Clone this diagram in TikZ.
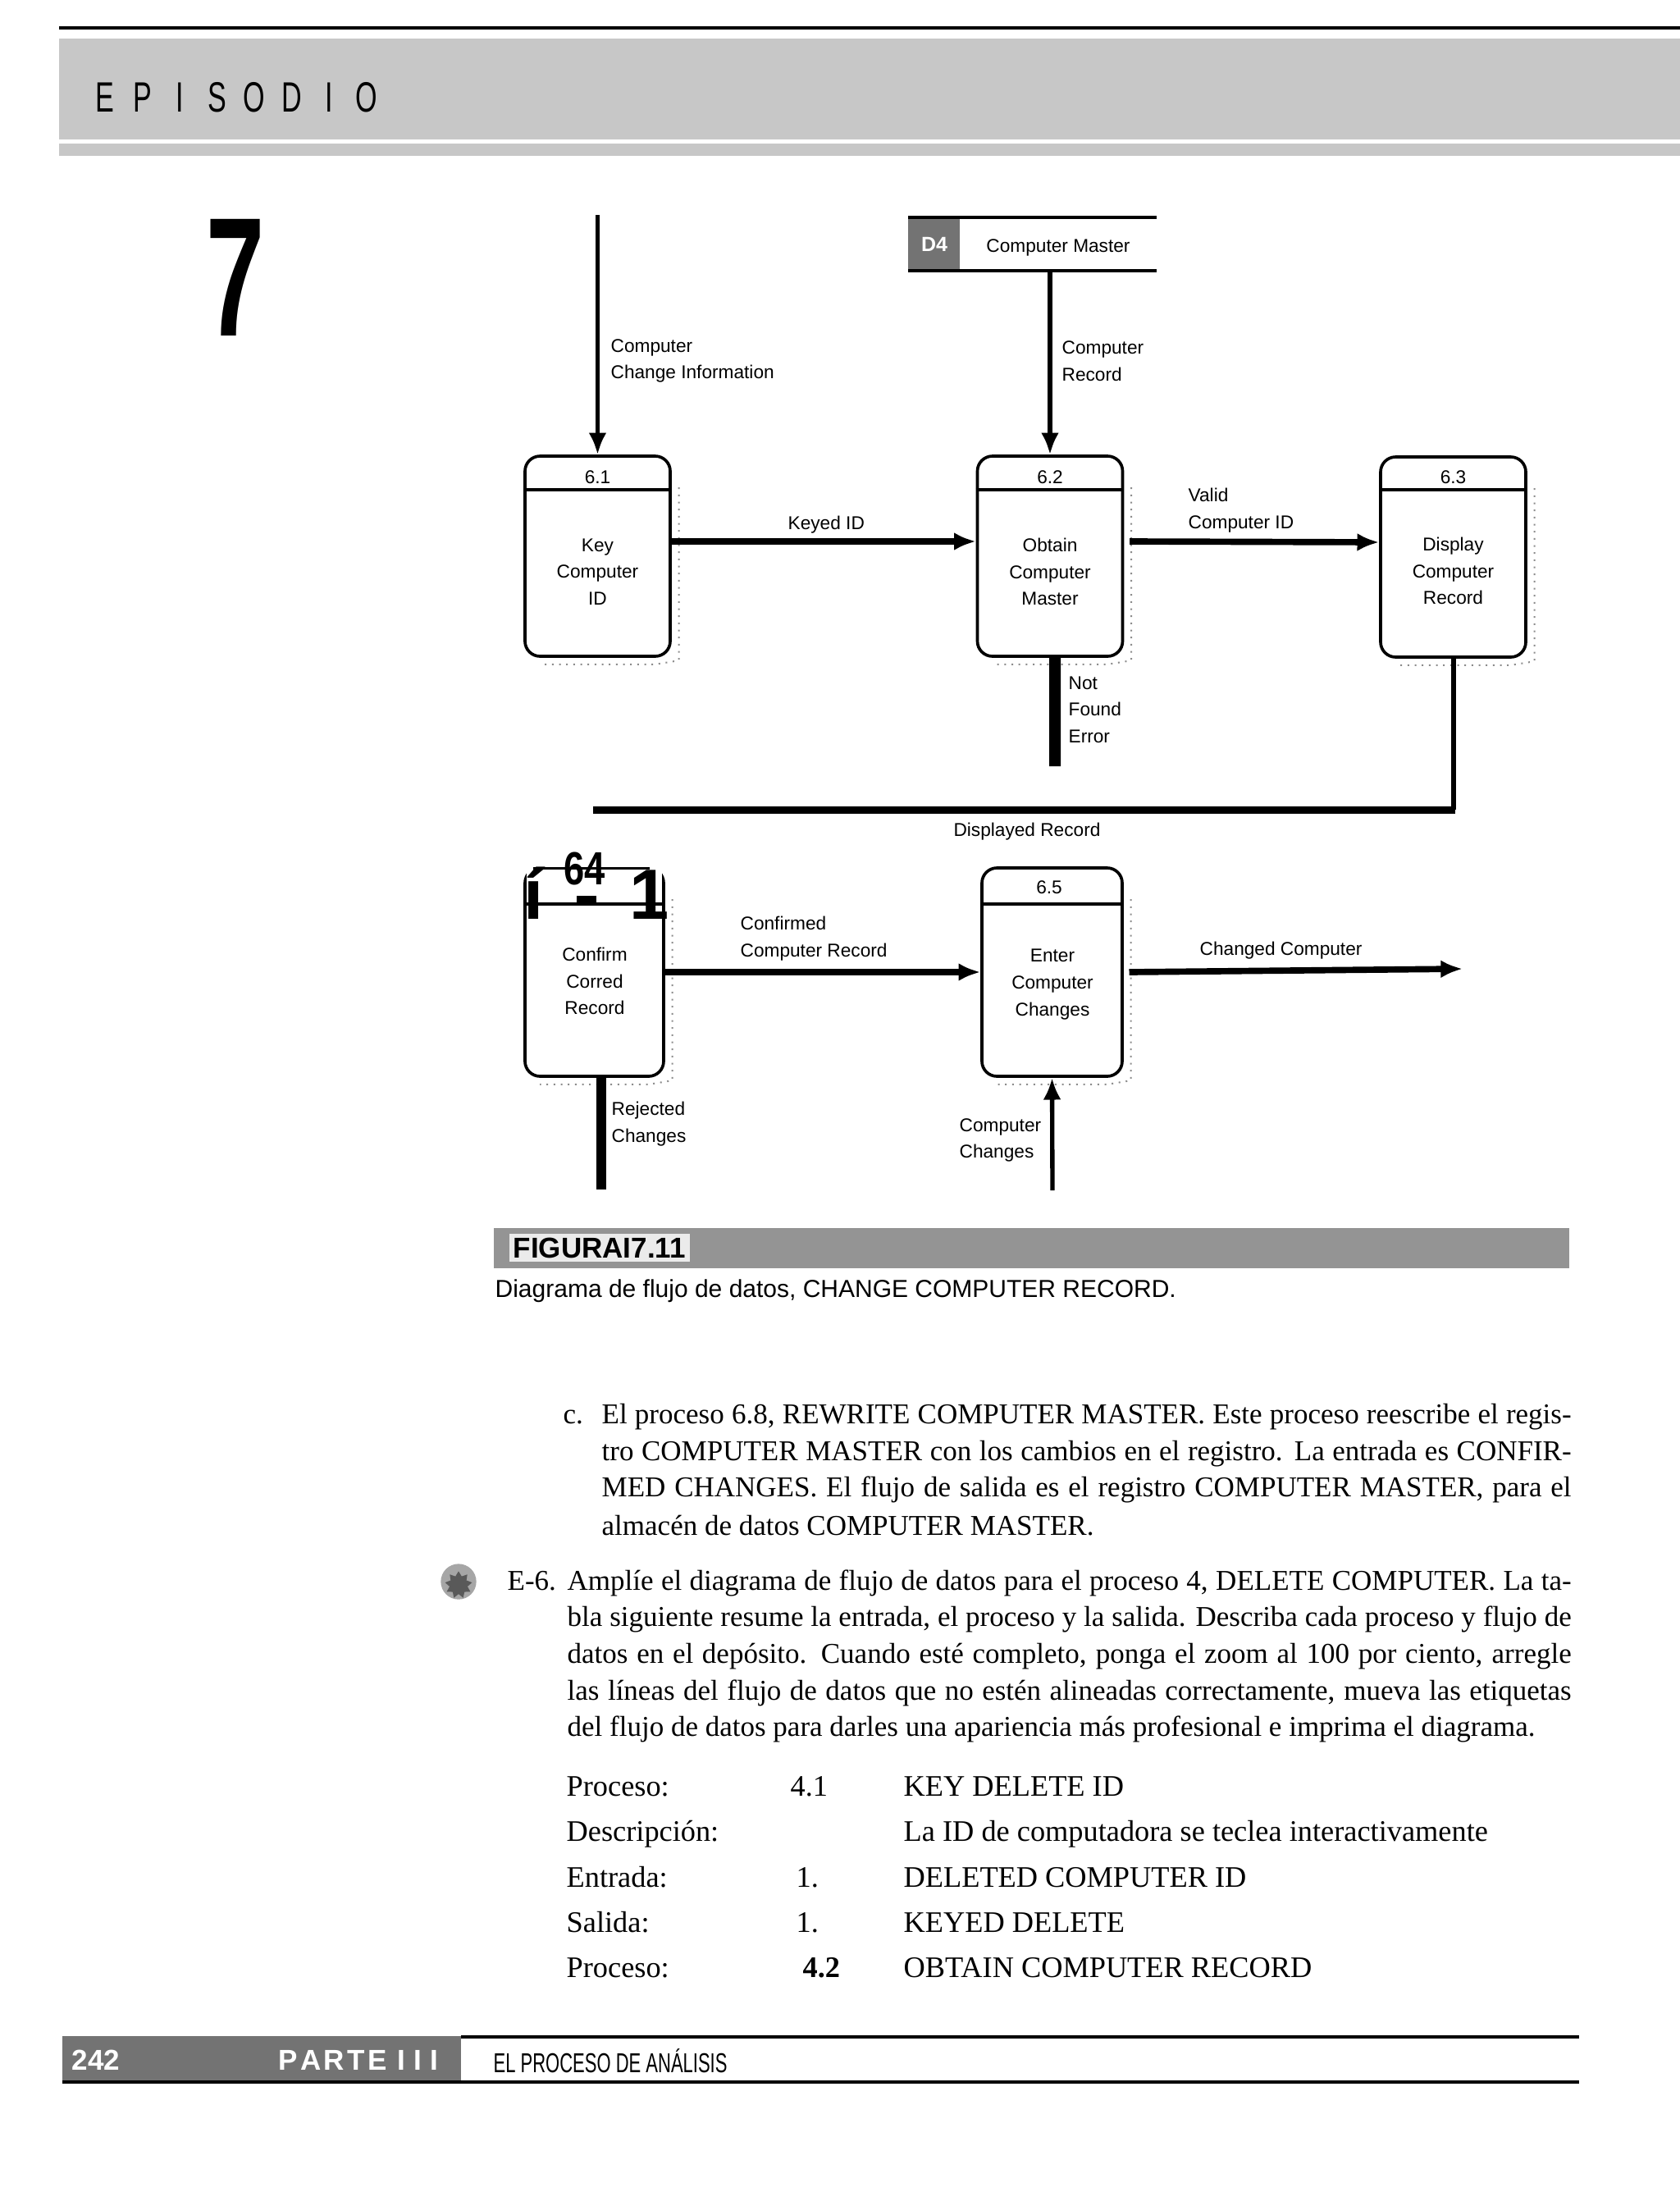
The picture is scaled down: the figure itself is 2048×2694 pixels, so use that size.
\documentclass[tikz,border=0pt]{standalone}
\usepackage{fontspec}
\usepackage{graphicx}
\setmainfont{Liberation Serif}
\newfontfamily\dsans{Liberation Sans}
\usetikzlibrary{arrows.meta,shapes.geometric}
\begin{document}
\begin{tikzpicture}[x=0.3pt,y=-0.3pt,
  proc/.style={draw,line width=1.1pt,rounded corners=5.5pt,inner sep=0pt,minimum width=53.1pt,minimum height=73.2pt},
  lproc/.style={proc,minimum height=76.2pt},
  hdr/.style={line width=1.1pt},
  ptxt/.style={font=\dsans\fontsize{6.8}{9.8}\selectfont,align=center,inner sep=0pt},
  lbl/.style={font=\dsans\fontsize{6.8}{9.8}\selectfont,align=left,inner sep=0pt,anchor=west},
  flow/.style={line width=2.3pt,-{Latex[length=8pt,width=6.6pt]}},
  vflow/.style={line width=1.6pt,-{Latex[length=8pt,width=6.6pt]}},
  body/.style={font=\fontsize{10.5}{13.4}\selectfont,inner sep=0pt,anchor=base west},
  tbl/.style={font=\fontsize{10.9}{13.4}\selectfont,inner sep=0pt,anchor=base west},
  shadowl/.style={black!45,dotted,line width=0.6pt},
]
\useasboundingbox (0,0) rectangle (2048,2694);
\fill[white] (0,0) rectangle (2048,2694);

% ---------- header ----------
\draw[line width=1pt] (72,34) -- (2048,34);
\fill[black!22] (72,47) rectangle (2048,170);
\fill[black!22] (72,175) rectangle (2048,190);
\foreach \ch [count=\i from 0] in {E,P,I,S,O,D,I,O}
  \node[font=\dsans\fontsize{15.5}{16}\selectfont,inner sep=0pt] (ep\i) at (128+45.5*\i,119) {\scalebox{0.66}[1]{\ch}};
\node[font=\dsans\bfseries\fontsize{62}{62}\selectfont,inner sep=0pt,anchor=base] (seven) at (287,409) {\scalebox{0.62}[1]{7}};

% ---------- data store ----------
\node[inner sep=0pt,minimum width=90.9pt,minimum height=19.5pt] (store) at (1258.5,297.5) {};
\fill[black!55] (1107,265) rectangle (1170,330);
\node[font=\dsans\bfseries\fontsize{7.5}{8}\selectfont,text=white,inner sep=0pt] (d4id) at (1139,298) {D4};
\draw[line width=1pt] (1107,265) -- (1410,265);
\draw[line width=1pt] (1107,330) -- (1410,330);
\node[ptxt] (d4name) at (1290,302) {Computer Master};

% ---------- processes ----------
\node[proc] (p61) at (728.5,678) {};
\node[proc] (p62) at (1280,678) {};
\node[proc] (p63) at (1771.5,679) {};
\node[lproc,minimum width=50.7pt] (p64) at (724.5,1185) {};
\node[lproc,minimum width=51.3pt] (p65) at (1282.5,1185) {};
\foreach \b in {p61,p62,p63}
  \draw[hdr] (\b.west |- 0,597) -- (\b.east |- 0,597);
\foreach \b in {p64,p65}
  \draw[hdr] (\b.west |- 0,1102) -- (\b.east |- 0,1102);
\foreach \b in {p61,p62,p63,p64,p65}
  \draw[shadowl] ([xshift=2.6pt,yshift=-12pt]\b.north east) -- ([xshift=2.6pt,yshift=-1pt]\b.south east)
     -- ([xshift=-6pt,yshift=-2.4pt]\b.south east) -- ([xshift=6pt,yshift=-2.4pt]\b.south west);

\node[ptxt] (n61) at (728.5,582) {6.1};
\node[ptxt] (n62) at (1280,582) {6.2};
\node[ptxt] (n63) at (1771.5,582) {6.3};
\node[ptxt] (n65) at (1279,1082) {6.5};
\node[ptxt] (t61) at (728.5,697) {Key\\Computer\\ID};
\node[ptxt] (t62) at (1280,697) {Obtain\\Computer\\Master};
\node[ptxt] (t63) at (1771.5,696) {Display\\Computer\\Record};
\node[ptxt] (t64) at (725,1196) {Confirm\\Corred\\Record};
\node[ptxt] (t65) at (1283,1200) {Enter\\Computer\\Changes};

% odd scanned header of 6.4
\fill[white] (642,1050) rectangle (807,1100);
\draw[line width=0.9pt] (650,1058) -- (792,1058);
\node[font=\dsans\bfseries\fontsize{17}{17}\selectfont,inner sep=0pt] (n64) at (713,1059) {\scalebox{0.8}[1]{64}};
\node[font=\dsans\bfseries\fontsize{26}{26}\selectfont,inner sep=0pt,anchor=base] (m64a) at (651,1120) {í};
\node[font=\dsans\bfseries\fontsize{26}{26}\selectfont,inner sep=0pt,anchor=base] (m64b) at (792,1120) {1};
\fill (703,1092) rectangle (727,1104);

% ---------- flows ----------
\coordinate (in1) at (728.5,262);
\draw[vflow] (in1) -- (p61.north);
\draw[vflow] (store.south -| p62.north) -- (p62.north);
\draw[flow] ([yshift=5.4pt]p61.east) -- ([yshift=5.4pt]p62.west);
\draw[flow] ([xshift=2pt,yshift=5.4pt]p62.east) -- ([yshift=5.4pt]p63.west);
\coordinate (nfe) at (1286,934);
\draw[line width=4.2pt] ([xshift=1.8pt]p62.south) -- (nfe);
\coordinate (dre) at (723,987);
\draw[line width=1.8pt] (p63.south) -- (p63.south |- dre);
\draw[line width=2.7pt] ([xshift=0.8pt]p63.south |- dre) -- (dre);
\draw[flow] (p64.east) -- (p65.west);
\coordinate (cce) at (1783,1181);
\draw[flow] ([xshift=2pt]p65.east) -- (cce);
\coordinate (rce) at (733,1450);
\draw[line width=3.8pt] (p64.south -| rce) -- (rce);
\coordinate (ccs) at (1283,1451);
\draw[vflow] (ccs) -- (p65.south);

% ---------- flow labels ----------
\node[lbl] (lcci) at (744,440) {Computer\\Change Information};
\node[lbl] (lcr) at (1294,440) {Computer\\Record};
\node[lbl] (lkid) at (960,640) {Keyed ID};
\node[lbl] (lvci) at (1448,622) {Valid\\Computer ID};
\node[lbl] (lnfe) at (1302,865) {Not\\Found\\Error};
\node[ptxt] (ldr) at (1252,1014) {Displayed Record};
\node[lbl] (lccr) at (902,1144) {Confirmed\\Computer Record};
\node[lbl] (lchc) at (1462,1159) {Changed Computer};
\node[lbl] (lrc) at (745,1370) {Rejected\\Changes};
\node[lbl] (lcc) at (1169,1390) {Computer\\Changes};

% ---------- caption ----------
\fill[black!42] (602,1497) rectangle (1913,1546);
\node[fill=black!8,font=\dsans\bfseries\fontsize{10.5}{11}\selectfont,inner sep=1.5pt,anchor=west] (figlab) at (620,1521) {FIGURAI7.11};
\node[font=\dsans\fontsize{9}{10}\selectfont,anchor=base west,inner sep=0pt] (cap) at (603,1581) {Diagrama de flujo de datos, CHANGE COMPUTER RECORD.};

% ---------- body text ----------
\node[body] (clab) at (686,1735) {c.};
\node[body] (c1) at (733,1735) {\makebox[354.6pt][s]{El proceso 6.8, REWRITE COMPUTER MASTER. Este proceso reescribe el regis-}};
\node[body] (c2) at (733,1780) {\makebox[354.6pt][s]{tro COMPUTER MASTER con los cambios en el registro. La entrada es CONFIR-}};
\node[body] (c3) at (733,1824) {\makebox[354.6pt][s]{MED CHANGES. El flujo de salida es el registro COMPUTER MASTER, para el}};
\node[body] (c4) at (733,1871) {almacén de datos COMPUTER MASTER.};

\node[circle,fill=black!35,inner sep=0pt,minimum size=13pt] (iconbg) at (559,1928) {};
\node[star,star points=9,star point ratio=1.5,fill=black!65,inner sep=0pt,minimum size=10pt] (icon) at (559,1932) {};
\node[body] (elab) at (618,1938) {E-6.};
\node[body] (e1) at (691,1938) {\makebox[367.2pt][s]{Amplíe el diagrama de flujo de datos para el proceso 4, DELETE COMPUTER. La ta-}};
\node[body] (e2) at (691,1982) {\makebox[367.2pt][s]{bla siguiente resume la entrada, el proceso y la salida. Describa cada proceso y flujo de}};
\node[body] (e3) at (691,2027) {\makebox[367.2pt][s]{datos en el depósito. Cuando esté completo, ponga el zoom al 100 por ciento, arregle}};
\node[body] (e4) at (691,2072) {\makebox[367.2pt][s]{las líneas del flujo de datos que no estén alineadas correctamente, mueva las etiquetas}};
\node[body] (e5) at (691,2116) {del flujo de datos para darles una apariencia más profesional e imprima el diagrama.};

% ---------- table ----------
\node[tbl] (r1a) at (690,2189) {Proceso:};
\node[tbl] (r1b) at (963,2189) {4.1};
\node[tbl] (r1c) at (1101,2189) {KEY DELETE ID};
\node[tbl] (r2a) at (690,2244) {Descripción:};
\node[tbl] (r2c) at (1101,2244) {La ID de computadora se teclea interactivamente};
\node[tbl] (r3a) at (690,2300) {Entrada:};
\node[tbl] (r3b) at (970,2300) {1.};
\node[tbl] (r3c) at (1101,2300) {DELETED COMPUTER ID};
\node[tbl] (r4a) at (690,2355) {Salida:};
\node[tbl] (r4b) at (970,2355) {1.};
\node[tbl] (r4c) at (1101,2355) {KEYED DELETE};
\node[tbl] (r5a) at (690,2410) {Proceso:};
\node[tbl] (r5b) at (978,2410) {\textbf{4.2}};
\node[tbl] (r5c) at (1101,2410) {OBTAIN COMPUTER RECORD};

% ---------- footer ----------
\fill[black!55] (76,2482) rectangle (562,2538);
\draw[line width=1.2pt] (562,2483) -- (1925,2483);
\draw[line width=1.2pt] (76,2538) -- (1925,2538);
\node[font=\dsans\bfseries\fontsize{10.5}{11}\selectfont,text=white,anchor=west,inner sep=0pt] (pg) at (87,2511) {242};
\node[font=\dsans\bfseries\fontsize{10.5}{11}\selectfont,text=white,anchor=west,inner sep=0pt] (parte) at (339,2511) {P\kern1pt A\kern1pt R\kern1pt T\kern1pt E\kern4pt I\kern3pt I\kern3pt I};
\node[font=\dsans\fontsize{10}{11}\selectfont,anchor=west,inner sep=0pt] (ftitle) at (601,2512) {\scalebox{0.66}[1]{EL PROCESO DE ANÁLISIS}};
\end{tikzpicture}
\end{document}
